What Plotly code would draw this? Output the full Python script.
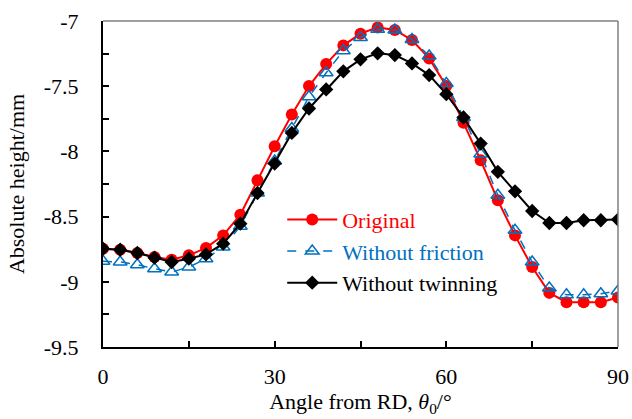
import plotly.graph_objects as go

angles = list(range(0, 91, 3))

original = [-8.746, -8.754, -8.779, -8.810, -8.830, -8.797, -8.740, -8.644, -8.485, -8.221,
            -7.960, -7.717, -7.499, -7.330, -7.187, -7.097, -7.049, -7.069, -7.146, -7.287,
            -7.499, -7.781, -8.068, -8.375, -8.644, -8.887, -9.085, -9.156, -9.156, -9.156, -9.120]

without_friction = [-8.843, -8.848, -8.869, -8.900, -8.925, -8.887, -8.823, -8.733, -8.574, -8.319,
                    -8.073, -7.824, -7.581, -7.397, -7.228, -7.126, -7.064, -7.069, -7.141, -7.269,
                    -7.479, -7.740, -8.020, -8.336, -8.605, -8.848, -9.048, -9.100, -9.100, -9.092, -9.070]

without_twinning = [-8.746, -8.754, -8.779, -8.815, -8.848, -8.823, -8.790, -8.708, -8.554, -8.319,
                    -8.093, -7.858, -7.671, -7.525, -7.386, -7.294, -7.248, -7.261, -7.325, -7.415,
                    -7.561, -7.740, -7.940, -8.157, -8.306, -8.457, -8.549, -8.549, -8.528, -8.528, -8.523]

x_tickvals = [0, 15, 30, 45, 60, 75, 90]
x_ticktext = ["0", "", "30", "", "60", "", "90"]
y_tickvals = [-7, -7.25, -7.5, -7.75, -8, -8.25, -8.5, -8.75, -9, -9.25, -9.5]
y_ticktext = ["-7", "", "-7.5", "", "-8", "", "-8.5", "", "-9", "", "-9.5"]

FONT = "Liberation Serif"
FS = 22
RED = "#FF0000"
BLUE = "#0070C0"
BLACK = "#000000"

fig = go.Figure()
fig.add_trace(go.Scatter(
    x=angles, y=original, mode="lines+markers",
    name='<span style="color:#FF0000">Original</span>', legendgroup="a",
    line=dict(color=RED, width=2),
    marker=dict(symbol="circle", size=12, color=RED)))
fig.add_trace(go.Scatter(
    x=angles, y=without_friction, mode="lines+markers",
    name='<span style="color:#0070C0">Without friction</span>', legendgroup="b",
    line=dict(color=BLUE, width=1.5, dash="dash"),
    marker=dict(symbol="triangle-up-open", size=12, color=BLUE, line=dict(width=1.5, color=BLUE))))
fig.add_trace(go.Scatter(
    x=angles, y=without_twinning, mode="lines+markers",
    name='<span style="color:#000000">Without twinning</span>', legendgroup="c",
    line=dict(color=BLACK, width=2),
    marker=dict(symbol="diamond", size=11, color=BLACK)))

fig.update_layout(
    width=632, height=419,
    margin=dict(l=103, r=14, t=21, b=72, pad=0),
    paper_bgcolor="white", plot_bgcolor="white",
    font=dict(family=FONT, size=FS, color="black"),
    showlegend=True,
    legend=dict(x=0.348, y=0.455, xanchor="left", yanchor="top",
                bgcolor="rgba(0,0,0,0)", font=dict(family=FONT, size=FS),
                tracegroupgap=0, itemwidth=50),
    xaxis=dict(range=[0, 90], tickmode="array", tickvals=x_tickvals, ticktext=x_ticktext,
               ticks="inside", ticklen=6, tickwidth=1.5, tickcolor="black",
               showline=True, linecolor="black", linewidth=2, showgrid=False, zeroline=False,
               ticklabelstandoff=9, automargin=False,
               title=dict(text="Angle from RD, <i>θ</i><sub>0</sub>/°", standoff=5,
                          font=dict(family=FONT, size=FS))),
    yaxis=dict(range=[-9.5, -7], tickmode="array", tickvals=y_tickvals, ticktext=y_ticktext,
               ticks="inside", ticklen=6, tickwidth=1.5, tickcolor="black",
               showline=True, linecolor="black", linewidth=2, showgrid=False, zeroline=False,
               ticklabelstandoff=18, automargin=False,
               title=dict(text="Absolute height/mm", standoff=13,
                          font=dict(family=FONT, size=FS))),
    shapes=[
        dict(type="line", xref="paper", yref="paper", x0=0, x1=1, y0=1, y1=1,
             line=dict(color="#7F7F7F", width=1.5)),
        dict(type="line", xref="paper", yref="paper", x0=1, x1=1, y0=0, y1=1,
             line=dict(color="#7F7F7F", width=1.5)),
    ],
)

fig.write_html("out.html")
